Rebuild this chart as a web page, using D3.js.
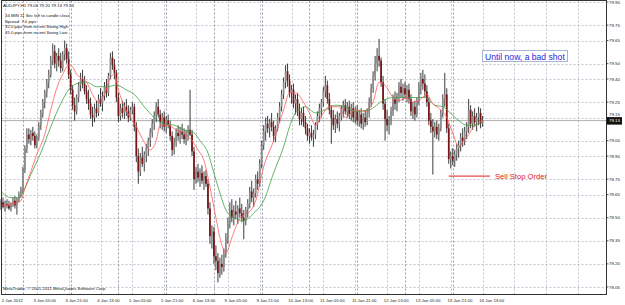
<!DOCTYPE html>
<html>
<head>
<meta charset="utf-8">
<script src="https://cdn.jsdelivr.net/npm/d3@7"></script>
<style>
body { margin: 0; background: #fff; }
svg { display: block; font-family: "Liberation Sans", Arial, sans-serif; }
</style>
</head>
<body>
<div id="chart"></div>
<script>
// AUDJPY H1 candles, 2 Jan 13:00 .. 16 Jan 15:00
const opens = [78.58,78.60,78.57,78.59,78.58,78.56,78.59,78.61,78.58,78.62,
78.65,78.68,78.81,78.95,79.04,79.01,79.05,79.03,78.97,79.02,
79.10,79.18,79.25,79.31,79.38,79.43,79.52,79.58,79.50,79.55,
79.52,79.47,79.56,79.60,79.53,79.43,79.33,79.23,79.19,79.28,
79.36,79.40,79.37,79.32,79.27,79.24,79.17,79.15,79.21,79.18,
79.27,79.24,79.29,79.35,79.31,79.42,79.54,79.49,79.44,79.28,
79.16,79.21,79.18,79.22,79.19,79.15,79.20,79.22,79.09,78.90,
78.80,78.89,78.85,78.91,78.95,79.00,79.05,79.11,79.16,79.22,
79.17,79.12,79.15,79.09,79.13,79.10,79.03,78.94,78.99,79.05,
79.03,79.06,79.04,79.01,79.05,79.07,79.04,78.93,78.75,78.80,
78.76,78.79,78.74,78.77,78.72,78.56,78.38,78.41,78.25,78.22,
78.14,78.20,78.18,78.27,78.37,78.46,78.55,78.50,78.54,78.52,
78.56,78.53,78.50,78.48,78.55,78.59,78.67,78.63,78.66,78.75,
78.72,78.85,78.97,79.06,79.11,79.08,79.12,79.09,79.03,79.08,
79.15,79.22,79.30,79.38,79.45,79.39,79.31,79.33,79.24,79.27,
79.19,79.14,79.18,79.12,79.08,79.03,79.05,79.02,79.04,79.10,
79.16,79.21,79.25,79.32,79.36,79.27,79.20,79.15,79.10,79.14,
79.11,79.16,79.20,79.23,79.19,79.22,79.17,79.21,79.15,79.19,
79.13,79.17,79.11,79.15,79.12,79.18,79.25,79.34,79.42,79.50,
79.55,79.52,79.38,79.24,79.14,79.10,79.13,79.19,79.27,79.24,
79.29,79.35,79.31,79.34,79.30,79.33,79.27,79.19,79.22,79.17,
79.26,79.35,79.40,79.37,79.32,79.25,79.13,79.09,79.06,79.09,
79.04,79.08,79.18,79.27,79.30,79.08,78.88,78.90,78.87,78.91,
78.95,78.97,79.02,79.00,79.06,79.09,79.20,79.11,79.16,79.12,
79.15,79.18,79.11];
const highs = [78.62,78.63,78.61,78.62,78.61,78.60,78.63,78.64,78.63,78.67,
78.70,78.83,78.97,79.08,79.08,79.07,79.09,79.06,79.04,79.12,
79.20,79.27,79.33,79.40,79.46,79.55,79.63,79.62,79.57,79.60,
79.57,79.58,79.65,79.63,79.58,79.46,79.36,79.28,79.30,79.38,
79.44,79.46,79.42,79.36,79.33,79.28,79.22,79.24,79.26,79.30,
79.34,79.32,79.38,79.40,79.44,79.57,79.58,79.53,79.46,79.31,
79.24,79.26,79.25,79.27,79.23,79.22,79.25,79.24,79.12,78.95,
78.92,78.96,78.93,78.98,79.02,79.08,79.14,79.19,79.25,79.27,
79.20,79.18,79.19,79.16,79.17,79.13,79.06,79.02,79.08,79.10,
79.09,79.11,79.08,79.07,79.10,79.33,79.07,78.96,78.83,78.85,
78.82,78.84,78.80,78.81,78.75,78.60,78.45,78.44,78.32,78.27,
78.24,78.26,78.30,78.40,78.50,78.60,78.62,78.58,78.61,78.58,
78.63,78.59,78.55,78.57,78.62,78.70,78.74,78.69,78.78,78.80,
78.88,79.00,79.10,79.15,79.16,79.14,79.18,79.13,79.10,79.18,
79.25,79.33,79.41,79.49,79.50,79.43,79.36,79.37,79.30,79.31,
79.24,79.21,79.22,79.16,79.11,79.08,79.10,79.07,79.12,79.19,
79.24,79.27,79.35,79.42,79.39,79.31,79.23,79.20,79.17,79.19,
79.18,79.23,79.26,79.27,79.25,79.26,79.24,79.25,79.22,79.23,
79.20,79.21,79.18,79.20,79.21,79.28,79.37,79.45,79.55,79.60,
79.66,79.54,79.42,79.27,79.20,79.16,79.22,79.30,79.32,79.31,
79.38,79.40,79.37,79.38,79.36,79.37,79.30,79.25,79.26,79.28,
79.38,79.44,79.46,79.43,79.36,79.28,79.18,79.14,79.12,79.13,
79.11,79.20,79.30,79.44,79.34,79.11,78.93,78.95,78.94,78.98,
79.00,79.05,79.08,79.09,79.12,79.27,79.23,79.19,79.21,79.18,
79.22,79.21,79.16];
const lows = [78.55,78.56,78.54,78.56,78.55,78.54,78.57,78.56,78.52,78.60,
78.63,78.66,78.79,78.92,78.98,78.97,79.00,78.95,78.95,79.00,
79.07,79.15,79.21,79.28,79.34,79.41,79.49,79.47,79.45,79.48,
79.44,79.45,79.52,79.50,79.40,79.30,79.20,79.13,79.17,79.25,
79.32,79.34,79.30,79.24,79.20,79.14,79.09,79.12,79.15,79.16,
79.22,79.19,79.26,79.28,79.29,79.40,79.46,79.40,79.25,79.12,
79.13,79.15,79.14,79.16,79.12,79.13,79.17,79.06,78.86,78.72,
78.77,78.83,78.80,78.86,78.90,78.96,79.02,79.07,79.12,79.15,
79.08,79.07,79.06,79.05,79.08,79.00,78.90,78.91,78.96,79.00,
78.98,79.01,78.98,78.97,79.00,79.03,78.90,78.68,78.72,78.73,
78.70,78.72,78.68,78.70,78.52,78.33,78.30,78.20,78.16,78.08,
78.11,78.13,78.15,78.24,78.33,78.43,78.47,78.45,78.49,78.46,
78.50,78.47,78.36,78.45,78.50,78.56,78.60,78.57,78.63,78.68,
78.70,78.82,78.94,79.00,79.05,79.02,79.06,78.99,78.99,79.06,
79.12,79.19,79.27,79.34,79.35,79.28,79.24,79.21,79.17,79.16,
79.10,79.10,79.09,79.04,79.00,78.98,79.00,78.96,79.01,79.07,
79.12,79.15,79.22,79.28,79.24,79.17,78.98,79.07,79.05,79.08,
79.06,79.13,79.15,79.17,79.15,79.14,79.13,79.12,79.11,79.10,
79.09,79.08,79.07,79.09,79.10,79.15,79.22,79.31,79.39,79.45,
79.48,79.35,79.20,79.00,79.06,79.04,79.10,79.16,79.20,79.19,
79.25,79.28,79.26,79.27,79.25,79.24,79.16,79.14,79.13,79.15,
79.23,79.30,79.33,79.28,79.22,79.10,79.05,78.78,79.02,79.01,
79.00,79.06,79.15,79.22,79.05,78.85,78.82,78.84,78.83,78.87,
78.89,78.93,78.96,78.97,79.01,79.05,79.08,79.07,79.09,79.06,
79.10,79.08,79.09];
const closes = [78.60,78.57,78.59,78.58,78.56,78.59,78.61,78.58,78.62,78.65,
78.68,78.81,78.95,79.04,79.01,79.05,79.03,78.97,79.02,79.10,
79.18,79.25,79.31,79.38,79.43,79.52,79.58,79.50,79.55,79.52,
79.47,79.56,79.60,79.53,79.43,79.33,79.23,79.19,79.28,79.36,
79.40,79.37,79.32,79.27,79.24,79.17,79.15,79.21,79.18,79.27,
79.24,79.29,79.35,79.31,79.42,79.54,79.49,79.44,79.28,79.16,
79.21,79.18,79.22,79.19,79.15,79.20,79.22,79.09,78.90,78.80,
78.89,78.85,78.91,78.95,79.00,79.05,79.11,79.16,79.22,79.17,
79.12,79.15,79.09,79.13,79.10,79.03,78.94,78.99,79.05,79.03,
79.06,79.04,79.01,79.05,79.07,79.04,78.93,78.75,78.80,78.76,
78.79,78.74,78.77,78.72,78.56,78.38,78.41,78.25,78.22,78.14,
78.20,78.18,78.27,78.37,78.46,78.55,78.50,78.54,78.52,78.56,
78.53,78.50,78.48,78.55,78.59,78.67,78.63,78.66,78.75,78.72,
78.85,78.97,79.06,79.11,79.08,79.12,79.09,79.03,79.08,79.15,
79.22,79.30,79.38,79.45,79.39,79.31,79.33,79.24,79.27,79.19,
79.14,79.18,79.12,79.08,79.03,79.05,79.02,79.04,79.10,79.16,
79.21,79.25,79.32,79.36,79.27,79.20,79.15,79.10,79.14,79.11,
79.16,79.20,79.23,79.19,79.22,79.17,79.21,79.15,79.19,79.13,
79.17,79.11,79.15,79.12,79.18,79.25,79.34,79.42,79.50,79.55,
79.52,79.38,79.24,79.14,79.10,79.13,79.19,79.27,79.24,79.29,
79.35,79.31,79.34,79.30,79.33,79.27,79.19,79.22,79.17,79.26,
79.35,79.40,79.37,79.32,79.25,79.13,79.09,79.06,79.09,79.04,
79.08,79.18,79.27,79.30,79.08,78.88,78.90,78.87,78.91,78.95,
78.97,79.02,79.00,79.06,79.09,79.20,79.11,79.16,79.12,79.15,
79.18,79.11,79.13];

// moving averages as they appear on the chart: [bar index, price]
const fastMA = [[0,78.58],[6,78.59],[10,78.61],[12,78.69],[15,78.80],[18,78.91],[22,79.04],[25,79.20],
[28,79.34],[31,79.43],[34,79.49],[36,79.48],[38,79.43],[40,79.41],[43,79.38],[46,79.30],[49,79.25],
[52,79.30],[55,79.41],[57,79.43],[59,79.33],[62,79.22],[65,79.15],[68,79.09],[72,78.99],[75,78.94],
[78,79.00],[80,79.10],[84,79.10],[88,79.07],[92,79.05],[96,79.00],[99,78.94],[102,78.87],[105,78.70],
[108,78.50],[111,78.32],[113,78.27],[116,78.37],[119,78.47],[122,78.52],[125,78.54],[128,78.61],
[132,78.83],[137,79.00],[142,79.20],[145,79.31],[148,79.31],[152,79.25],[155,79.18],[158,79.10],
[162,79.18],[165,79.22],[170,79.22],[173,79.15],[178,79.20],[183,79.19],[187,79.25],[190,79.38],
[193,79.36],[197,79.28],[200,79.26],[204,79.28],[207,79.25],[210,79.26],[214,79.30],[217,79.24],
[220,79.21],[224,79.15],[227,79.05],[230,78.96],[232,78.99],[235,79.04],[238,79.10],[242,79.13]];
const slowMA = [[0,78.67],[5,78.63],[9,78.63],[12,78.69],[15,78.78],[20,78.92],[25,79.09],[30,79.24],
[34,79.33],[38,79.37],[43,79.38],[48,79.35],[53,79.35],[58,79.36],[63,79.33],[67,79.30],[72,79.22],
[77,79.15],[82,79.11],[87,79.10],[92,79.07],[97,79.05],[100,79.00],[104,78.92],[107,78.79],[110,78.66],
[113,78.55],[117,78.50],[122,78.48],[127,78.53],[132,78.61],[137,78.79],[142,78.96],[145,79.09],
[148,79.18],[153,79.22],[158,79.18],[163,79.20],[168,79.23],[173,79.22],[178,79.19],[185,79.20],
[192,79.26],[197,79.28],[205,79.28],[213,79.28],[218,79.23],[222,79.22],[225,79.19],[230,79.13],
[234,79.10],[237,79.10],[242,79.12]];

const priceTicks = [79.90,79.75,79.65,79.50,79.40,79.25,79.15,79.00,78.90,78.75,78.65,78.50,78.35,78.20,78.05];
const timeLabels = ["2 Jan 2012","3 Jan 05:00","3 Jan 21:00","4 Jan 13:00","5 Jan 05:00","5 Jan 21:00",
  "6 Jan 13:00","9 Jan 05:00","9 Jan 21:00","10 Jan 13:00","11 Jan 05:00","11 Jan 21:00",
  "12 Jan 13:00","13 Jan 05:00","13 Jan 21:00","16 Jan 13:00"];
const labelBars = [0,16,32,48,64,80,96,112,128,144,160,176,192,208,224,240];
const gridBars = [2,18,34,50,66,82,98,114,130,146,162,178,194,210,226,242,258,274,290];
const daySeparatorBars = [11,35,59,83,107,131,155,179,203,227];
const currentPrice = 79.13;
const sellStop = 78.77;
const infoLines = ["AUDJPY,H1  79.06 79.20 79.13 79.13", "34 MIN 11 Sec left to candle close",
  "Spread: 7.0 pips", "32.0 pips from recent Swing High", "35.0 pips from recent Swing Low"];

const W = 625, H = 305;
const plot = {left: 1.5, right: 606.5, top: 0.5, bottom: 294.5};

const svg = d3.select("#chart").append("svg")
  .attr("width", W).attr("height", H);

// bar index -> x, price -> y
const x = d3.scaleLinear().domain([0, 1]).range([1, 2.99]);
const y = d3.scaleLinear().domain([78.05, 79.90]).range([287, 2]);

const gridColor = "#aeb6c3";

// horizontal grid
svg.append("g").selectAll("line")
  .data(priceTicks)
  .join("line")
  .attr("x1", plot.left).attr("x2", plot.right)
  .attr("y1", d => Math.round(y(d)) + 0.5).attr("y2", d => Math.round(y(d)) + 0.5)
  .attr("stroke", gridColor).attr("stroke-width", 0.8)
  .attr("stroke-dasharray", "2,2");

// vertical grid
svg.append("g").selectAll("line")
  .data(gridBars)
  .join("line")
  .attr("x1", d => Math.round(x(d)) + 0.5).attr("x2", d => Math.round(x(d)) + 0.5)
  .attr("y1", plot.top).attr("y2", plot.bottom)
  .attr("stroke", gridColor).attr("stroke-width", 0.8)
  .attr("stroke-dasharray", "2,2");

// day separators
svg.append("g").selectAll("line")
  .data(daySeparatorBars)
  .join("line")
  .attr("x1", d => Math.round(x(d)) + 0.5).attr("x2", d => Math.round(x(d)) + 0.5)
  .attr("y1", plot.top).attr("y2", plot.bottom)
  .attr("stroke", "#7d8592").attr("stroke-width", 0.8)
  .attr("stroke-dasharray", "2,2");

// current price line
svg.append("line")
  .attr("x1", plot.left).attr("x2", plot.right)
  .attr("y1", y(currentPrice)).attr("y2", y(currentPrice))
  .attr("stroke", "#9a9a9a").attr("stroke-width", 0.8);

// candles
const bars = d3.range(closes.length);
const candles = svg.append("g");
candles.selectAll("line")
  .data(bars)
  .join("line")
  .attr("x1", i => x(i)).attr("x2", i => x(i))
  .attr("y1", i => y(highs[i])).attr("y2", i => y(lows[i]))
  .attr("stroke", "#262626").attr("stroke-width", 0.9);
candles.selectAll("rect")
  .data(bars)
  .join("rect")
  .attr("x", i => x(i) - 0.85)
  .attr("width", 1.7)
  .attr("y", i => y(Math.max(opens[i], closes[i])))
  .attr("height", i => Math.max(0.8, Math.abs(y(opens[i]) - y(closes[i]))))
  .attr("fill", i => closes[i] >= opens[i] ? "#8e8e8e" : "#781414");

// moving averages
const maLine = d3.line()
  .x(d => x(d[0]))
  .y(d => y(d[1]))
  .curve(d3.curveMonotoneX);
svg.append("path").datum(slowMA)
  .attr("d", maLine).attr("fill", "none")
  .attr("stroke", "#3f9f3f").attr("stroke-width", 0.8);
svg.append("path").datum(fastMA)
  .attr("d", maLine).attr("fill", "none")
  .attr("stroke", "#ff5a5a").attr("stroke-width", 0.8);

// frame
svg.append("rect")
  .attr("x", plot.left).attr("y", plot.top)
  .attr("width", plot.right - plot.left).attr("height", plot.bottom - plot.top)
  .attr("fill", "none").attr("stroke", "#333").attr("stroke-width", 1);

// price axis labels
const yLab = svg.append("g");
yLab.selectAll("line")
  .data(priceTicks)
  .join("line")
  .attr("x1", plot.right).attr("x2", plot.right + 2)
  .attr("y1", d => y(d)).attr("y2", d => y(d))
  .attr("stroke", "#333").attr("stroke-width", 0.8);
yLab.selectAll("text")
  .data(priceTicks.filter(d => Math.abs(d - currentPrice) > 0.03))
  .join("text")
  .attr("x", 609).attr("y", d => y(d))
  .attr("dy", "0.35em")
  .attr("font-size", 4.4)
  .attr("fill", "#222")
  .text(d => d.toFixed(2));
// label right above the current-price box, partly hidden in the original
yLab.append("text")
  .attr("x", 609).attr("y", y(79.15) - 1.6)
  .attr("font-size", 4.4)
  .attr("fill", "#222")
  .text("79.15");

// current price box
svg.append("rect")
  .attr("x", 607).attr("y", y(currentPrice) - 3.5)
  .attr("width", 15).attr("height", 7.5)
  .attr("fill", "#111");
svg.append("text")
  .attr("x", 609).attr("y", y(currentPrice) + 0.3)
  .attr("dy", "0.35em")
  .attr("font-size", 4.4)
  .attr("fill", "#fff")
  .text(currentPrice.toFixed(2));

// time axis labels
svg.append("g").selectAll("text")
  .data(timeLabels)
  .join("text")
  .attr("x", (d, i) => x(labelBars[i]) + 0.7)
  .attr("y", 301.5)
  .attr("font-size", 4.3)
  .attr("fill", "#222")
  .text(d => d);

// info text top-left
svg.append("g").selectAll("text")
  .data(infoLines)
  .join("text")
  .attr("x", (d, i) => i === 0 ? 3 : 5)
  .attr("y", (d, i) => [6.5, 16.5, 22.5, 28.2, 33.8][i])
  .attr("font-size", 4.3)
  .attr("fill", "#111")
  .text(d => d);

svg.append("text")
  .attr("x", 3).attr("y", 290)
  .attr("font-size", 4.3)
  .attr("fill", "#111")
  .text("MetaTrader, \u00a9 2001-2011 MetaQuotes Software Corp.");

// annotations
svg.append("rect")
  .attr("x", 482.5).attr("y", 50.5)
  .attr("width", 85).attr("height", 11)
  .attr("fill", "#fff").attr("stroke", "#a8b4d0").attr("stroke-width", 1);
svg.append("text")
  .attr("x", 485).attr("y", 59.5)
  .attr("font-size", 8.6)
  .attr("fill", "#2828e0")
  .text("Until now, a bad shot");

svg.append("line")
  .attr("x1", x(225)).attr("x2", 490)
  .attr("y1", y(sellStop)).attr("y2", y(sellStop))
  .attr("stroke", "#e02020").attr("stroke-width", 1);
svg.append("text")
  .attr("x", 495).attr("y", y(sellStop))
  .attr("dy", "0.35em")
  .attr("font-size", 7.6)
  .attr("fill", "#e02020")
  .text("Sell Stop Order");
</script>
</body>
</html>
